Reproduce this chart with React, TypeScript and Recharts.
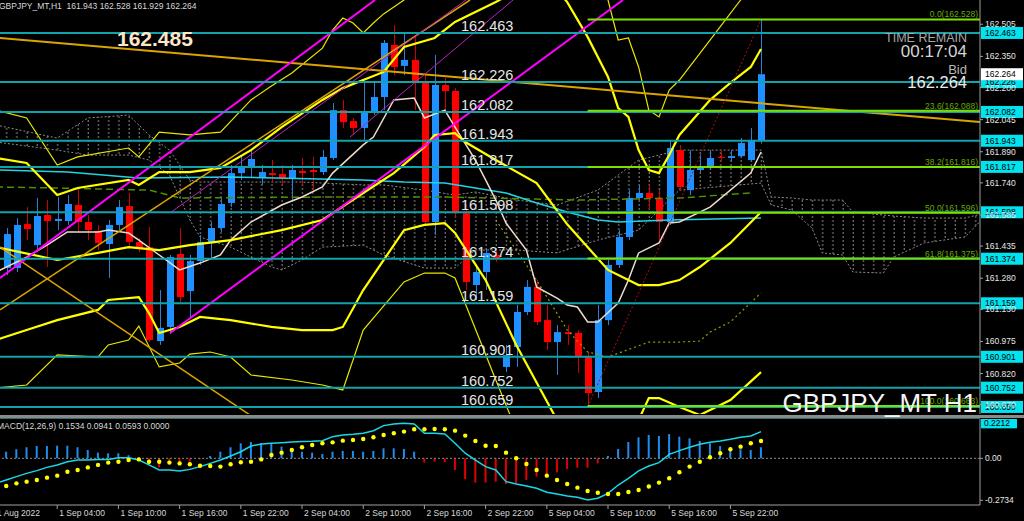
import { ComposedChart, Bar, Line, Area, XAxis, YAxis, ReferenceLine, Cell } from 'recharts';

const FONT = '"Liberation Sans", Arial, sans-serif';

// GBPJPY H1, candle index 1 = 31 Aug 23:00 ... index 75 = 6 Sep 01:00
const opens = [161.329, 161.329, 161.541, 161.440, 161.585, 161.556, 161.556, 161.633, 161.551, 161.508, 161.445, 161.537, 161.628, 161.455, 161.430, 160.977, 161.045, 161.397, 161.218, 161.363, 161.450, 161.522, 161.643, 161.787, 161.812, 161.768, 161.787, 161.783, 161.759, 161.797, 161.802, 161.792, 161.860, 162.091, 162.038, 162.005, 162.082, 162.154, 162.405, 162.304, 162.333, 162.226, 161.551, 162.212, 162.183, 161.594, 161.247, 161.310, 161.392, 160.852, 160.948, 161.117, 161.238, 161.078, 160.972, 161.020, 161.016, 160.905, 160.731, 161.078, 161.344, 161.479, 161.667, 161.691, 161.667, 161.551, 161.898, 161.705, 161.802, 161.816, 161.865, 161.860, 161.869, 161.850, 161.943];
const highs = [161.522, 161.570, 161.623, 161.667, 161.657, 161.672, 161.681, 161.710, 161.585, 161.537, 161.561, 161.657, 161.691, 161.474, 161.527, 161.223, 161.392, 161.522, 161.392, 161.488, 161.551, 161.667, 161.826, 161.874, 161.898, 161.826, 161.850, 161.826, 161.826, 161.860, 161.865, 161.898, 162.125, 162.140, 162.053, 162.222, 162.222, 162.429, 162.501, 162.468, 162.453, 162.260, 162.357, 162.246, 162.197, 161.633, 161.344, 161.426, 161.416, 160.958, 161.151, 161.271, 161.271, 161.151, 161.054, 161.054, 161.030, 160.924, 161.151, 161.368, 161.512, 161.705, 161.730, 161.730, 161.705, 161.947, 161.923, 161.898, 161.874, 161.898, 161.898, 161.898, 161.956, 162.005, 162.528];
const lows = [161.295, 161.310, 161.464, 161.416, 161.334, 161.512, 161.537, 161.503, 161.464, 161.416, 161.281, 161.512, 161.435, 161.406, 160.972, 160.958, 161.011, 161.165, 161.093, 161.344, 161.377, 161.503, 161.623, 161.754, 161.763, 161.730, 161.744, 161.730, 161.657, 161.730, 161.705, 161.778, 161.850, 162.005, 161.971, 161.947, 162.067, 162.091, 162.260, 162.260, 162.091, 161.537, 161.488, 162.091, 161.570, 161.223, 161.175, 161.223, 161.358, 160.827, 160.852, 161.102, 161.054, 160.934, 160.813, 160.958, 160.823, 160.659, 160.702, 161.054, 161.329, 161.464, 161.657, 161.609, 161.464, 161.537, 161.705, 161.681, 161.792, 161.802, 161.841, 161.841, 161.860, 161.841, 161.929];
const closes = [161.493, 161.537, 161.517, 161.580, 161.556, 161.566, 161.638, 161.551, 161.512, 161.450, 161.537, 161.623, 161.455, 161.426, 160.982, 161.040, 161.382, 161.189, 161.363, 161.455, 161.522, 161.638, 161.787, 161.812, 161.855, 161.792, 161.778, 161.763, 161.802, 161.787, 161.792, 161.865, 162.091, 162.033, 162.005, 162.082, 162.154, 162.415, 162.299, 162.333, 162.226, 161.551, 162.212, 162.183, 161.594, 161.262, 161.310, 161.402, 161.377, 160.909, 161.117, 161.238, 161.069, 160.972, 161.020, 161.011, 160.905, 160.726, 161.078, 161.344, 161.479, 161.667, 161.691, 161.667, 161.551, 161.908, 161.720, 161.802, 161.816, 161.860, 161.860, 161.869, 161.932, 161.943, 162.264];

// indicator lines, [candle index, price]
const bbMid = [[0, 161.430], [6, 161.368], [10, 161.402], [13, 161.430], [16, 161.416], [19, 161.440], [23, 161.464], [28, 161.512], [32, 161.561], [36, 161.691], [39, 161.787], [42, 161.913], [43, 161.971], [45, 161.980], [46, 161.937], [49, 161.850], [53, 161.739], [56, 161.540], [60, 161.320], [62, 161.271], [63, 161.247], [65, 161.247], [67, 161.271], [69, 161.334], [72, 161.450], [75, 161.599]];
const bbUp2 = [[0, 161.860], [3, 161.836], [6, 161.681], [8, 161.715], [13, 161.754], [14, 161.730], [16, 161.792], [19, 161.792], [22, 161.812], [25, 161.898], [28, 162.009], [32, 162.140], [34, 162.197], [38, 162.275], [40, 162.395], [43, 162.439], [45, 162.516], [49, 162.612], [52, 162.694], [55, 162.670], [56, 162.612], [58, 162.444], [60, 162.251], [61, 162.101], [62, 162.058], [63, 161.898], [64, 161.802], [65, 161.787], [66, 161.874], [67, 161.971], [70, 162.140], [72, 162.222], [74, 162.299], [75, 162.386]];
const bbUp3 = [[0, 162.091], [3, 162.053], [6, 161.826], [8, 161.865], [13, 161.908], [14, 161.865], [16, 161.985], [19, 161.971], [22, 161.985], [25, 162.140], [27, 162.207], [29, 162.270], [32, 162.390], [33, 162.477], [34, 162.535], [35, 162.511], [36, 162.463], [37, 162.511], [38, 162.555], [39, 162.588], [40, 162.622], [42, 162.718], [45, 162.911], [50, 163.104], [55, 163.008], [58, 162.815], [60, 162.622], [61, 162.429], [62, 162.439], [63, 162.299], [64, 162.091], [65, 162.058], [66, 162.188], [67, 162.236], [70, 162.429], [73, 162.622], [75, 162.743]];
const bbLow2 = [[0, 160.982], [3, 161.030], [6, 161.078], [10, 161.127], [11, 161.175], [14, 161.189], [15, 161.112], [16, 161.016], [17, 161.030], [18, 161.045], [20, 161.093], [23, 161.078], [27, 161.045], [30, 161.030], [33, 161.030], [34, 161.045], [36, 161.223], [40, 161.512], [42, 161.537], [44, 161.546], [45, 161.498], [48, 161.271], [51, 160.958], [55, 160.596], [58, 160.400], [61, 160.500], [63, 160.596], [64, 160.702], [65, 160.702], [67, 160.659], [69, 160.620], [72, 160.692], [75, 160.827]];
const bbLow3 = [[0, 160.750], [3, 160.765], [6, 160.910], [10, 160.900], [11, 160.958], [13, 160.982], [14, 161.049], [16, 160.852], [18, 160.871], [19, 160.914], [21, 160.924], [23, 160.900], [25, 160.813], [29, 160.789], [32, 160.765], [34, 160.741], [36, 161.030], [40, 161.262], [42, 161.305], [44, 161.305], [45, 161.281], [49, 160.789], [51, 160.548], [55, 160.210], [60, 160.114], [65, 160.210], [70, 160.355], [75, 160.499]];
const fastMa = [[0, 161.310], [3, 161.382], [5, 161.440], [7, 161.503], [10, 161.503], [11, 161.512], [13, 161.498], [14, 161.464], [16, 161.392], [18, 161.320], [20, 161.353], [22, 161.392], [23, 161.464], [25, 161.551], [28, 161.633], [30, 161.672], [32, 161.720], [33, 161.787], [36, 161.923], [37, 161.961], [39, 162.140], [41, 162.149], [42, 162.053], [44, 162.091], [45, 162.009], [47, 161.850], [48, 161.754], [49, 161.657], [50, 161.546], [52, 161.416], [53, 161.238], [55, 161.184], [56, 161.151], [57, 161.141], [58, 161.069], [59, 161.069], [61, 161.160], [62, 161.271], [63, 161.402], [65, 161.450], [66, 161.546], [67, 161.551], [70, 161.623], [74, 161.787], [75, 161.889]];
const slowMa = [[0, 161.802], [7, 161.792], [14, 161.763], [23, 161.768], [36, 161.754], [40, 161.744], [44, 161.739], [47, 161.715], [50, 161.691], [53, 161.643], [56, 161.599], [59, 161.561], [61, 161.551], [66, 161.561], [75, 161.570]];
const kijun = [[0, 161.720], [6, 161.715], [15, 161.705], [18, 161.667], [34, 161.672], [44, 161.672], [57, 161.657], [67, 161.667], [74, 161.691]];
const laggingDots = [[49, 161.561], [53, 161.271], [56, 161.030], [58, 160.924], [60, 160.900], [64, 160.972], [67, 160.972], [69, 160.977], [70, 161.020], [72, 161.069], [75, 161.209]];
// ichimoku cloud, [index, span top, span bottom]
const cloud = [[0, 162.019, 161.937], [6, 161.956, 161.898], [9, 162.053, 161.874], [13, 162.067, 161.874], [15, 161.971, 161.850], [17, 161.898, 161.778], [19, 161.754, 161.561], [20, 161.744, 161.479], [23, 161.744, 161.430], [27, 161.744, 161.334], [28, 161.744, 161.320], [30, 161.744, 161.368], [32, 161.739, 161.430], [36, 161.730, 161.440], [38, 161.730, 161.392], [42, 161.705, 161.329], [45, 161.681, 161.329], [47, 161.696, 161.416], [51, 161.657, 161.416], [55, 161.633, 161.402], [59, 161.705, 161.464], [63, 161.850, 161.512], [67, 161.898, 161.705], [75, 161.898, 161.739], [76, 161.672, 161.633], [78, 161.667, 161.609], [80, 161.657, 161.522], [81, 161.657, 161.402], [83, 161.657, 161.392], [84, 161.599, 161.310], [87, 161.585, 161.305], [88, 161.580, 161.382], [91, 161.570, 161.450], [95, 161.570, 161.479], [97, 161.595, 161.580]];

const levels = [162.463, 162.226, 162.082, 161.943, 161.817, 161.598, 161.374, 161.159, 160.901, 160.752, 160.659];
const fibNames = ['0.0', '23.6', '38.2', '50.0', '61.8', '100.0'];
const fibPrices = [162.528, 162.088, 161.816, 161.596, 161.375, 160.663];
const bidPrice = 162.264;
const priceTicks = [162.505, 162.35, 162.2, 162.045, 161.89, 161.74, 161.585, 161.435, 161.28, 161.13, 160.975, 160.82, 160.67];

// drawn trend lines: [x1, y1, x2, y2] in (index, price)
const magentaLines = [[17.06, 161.016, 61.47, 162.622], [0.39, 161.281, 37.16, 162.622]];
const purpleLines = [[17.06, 161.595, 46.08, 162.622], [34.7, 161.961, 50.69, 162.622]];
const goldLines = [[0.39, 162.439, 96.47, 162.033], [0.39, 161.430, 25.2, 160.61], [0.39, 161.127, 46.47, 162.622]];
const fibTrend = [58, 160.659, 75, 162.528];

// MACD(12,26,9), index 0..75
const macdHist = [0.03, 0.043, 0.059, 0.072, 0.08, 0.08, 0.082, 0.082, 0.072, 0.054, 0.037, 0.033, 0.033, 0.02, 0.004, -0.043, -0.059, -0.033, -0.028, -0.022, -0.007, 0.015, 0.043, 0.072, 0.098, 0.106, 0.098, 0.098, 0.076, 0.065, 0.043, 0.037, 0.028, 0.043, 0.048, 0.048, 0.043, 0.048, 0.065, 0.065, 0.061, 0.043, -0.028, -0.022, -0.026, -0.076, -0.135, -0.158, -0.158, -0.152, -0.167, -0.163, -0.141, -0.119, -0.102, -0.091, -0.069, -0.061, -0.061, -0.033, 0.015, 0.061, 0.106, 0.137, 0.152, 0.145, 0.158, 0.141, 0.13, 0.113, 0.098, 0.08, 0.065, 0.059, 0.054, 0.072];
const macdMain = [-0.163, -0.141, -0.119, -0.098, -0.08, -0.059, -0.043, -0.022, -0.011, -0.011, -0.007, -0.007, 0.004, 0.004, -0.011, -0.043, -0.076, -0.076, -0.082, -0.072, -0.054, -0.033, -0.011, 0.015, 0.043, 0.08, 0.093, 0.098, 0.102, 0.106, 0.109, 0.111, 0.115, 0.141, 0.152, 0.156, 0.163, 0.18, 0.213, 0.224, 0.228, 0.224, 0.163, 0.163, 0.158, 0.098, 0.033, -0.011, -0.054, -0.076, -0.152, -0.167, -0.18, -0.195, -0.221, -0.232, -0.245, -0.254, -0.271, -0.26, -0.228, -0.174, -0.13, -0.082, -0.05, -0.028, 0.026, 0.05, 0.072, 0.091, 0.104, 0.113, 0.124, 0.137, 0.145, 0.174];
const macdSignal = [null, -0.18, -0.163, -0.152, -0.141, -0.126, -0.113, -0.087, -0.076, -0.059, -0.043, -0.028, -0.022, -0.011, -0.007, -0.022, -0.022, -0.028, -0.033, -0.039, -0.048, -0.05, -0.054, -0.039, -0.026, -0.022, -0.007, 0.022, 0.037, 0.054, 0.072, 0.087, 0.098, 0.104, 0.115, 0.119, 0.126, 0.137, 0.152, 0.163, 0.174, 0.189, 0.189, 0.191, 0.189, 0.18, 0.148, 0.113, 0.082, 0.08, 0.037, 0, -0.037, -0.076, -0.113, -0.141, -0.167, -0.191, -0.213, -0.224, -0.232, -0.232, -0.219, -0.206, -0.184, -0.158, -0.13, -0.091, -0.054, -0.022, 0.007, 0.033, 0.059, 0.076, 0.098, 0.113];

const timeTicks = [0, 6, 12, 18, 24, 30, 36, 42, 48, 54, 60, 66, 72];
const timeLabels = ['31 Aug 2022', '1 Sep 04:00', '1 Sep 10:00', '1 Sep 16:00', '1 Sep 22:00', '2 Sep 04:00', '2 Sep 10:00', '2 Sep 16:00', '2 Sep 22:00', '5 Sep 04:00', '5 Sep 10:00', '5 Sep 16:00', '5 Sep 22:00'];

const X_DOMAIN = [0.39, 96.47];
const LABEL_X = 461;

// build chart rows
const rows: any[] = Array.from({ length: 98 }, (_, i) => ({ i }));
opens.forEach((o, k) => {
  const r = rows[k + 1];
  r.open = o;
  r.high = highs[k];
  r.low = lows[k];
  r.close = closes[k];
});
const put = (key: string, pts: number[][]) => pts.forEach(([i, v]) => (rows[i][key] = v));
put('mid', bbMid);
put('up2', bbUp2);
put('up3', bbUp3);
put('lo2', bbLow2);
put('lo3', bbLow3);
put('fast', fastMa);
put('slow', slowMa);
put('kijun', kijun);
put('lag', laggingDots);
cloud.forEach(([i, top, bot]) => {
  rows[i].cTop = top;
  rows[i].cBot = bot;
});

const macdRows = macdHist.map((h, i) => ({ i, hist: h, macd: macdMain[i], sig: macdSignal[i] }));

const Candle = (props: any) => {
  const { x, y, width, height, payload } = props;
  if (!payload || payload.open == null) return null;
  const { open, close, high, low } = payload;
  const top = Math.min(y, y + height);
  const h = Math.abs(height);
  const k = h / (high - low);
  const up = close >= open;
  const bodyTop = top + (high - Math.max(open, close)) * k;
  const bodyH = Math.max(1, Math.abs(close - open) * k);
  const cx = Math.round(x + width / 2);
  return (
    <g>
      <line x1={cx + 0.5} x2={cx + 0.5} y1={top} y2={top + h} stroke={up ? '#2a7fd4' : '#d00000'} strokeWidth={1} />
      <rect x={cx - 3} y={bodyTop} width={7} height={bodyH} fill={up ? '#1e90ff' : '#ff0000'} />
    </g>
  );
};

const LevelTag = ({ viewBox, price }: any) => {
  if (!viewBox) return null;
  const y = viewBox.y;
  return (
    <g>
      <text x={LABEL_X} y={y - 2} fill="#e6e6e6" fontSize={14.5} fontFamily={FONT}>
        {price.toFixed(3)}
      </text>
      <rect x={981} y={y - 6} width={42} height={12} fill="#00e4f0" />
      <text x={985} y={y + 3} fill="#000" fontSize={8.5} fontFamily={FONT}>
        {price.toFixed(3)}
      </text>
    </g>
  );
};

const FibTag = ({ viewBox, text }: any) => {
  if (!viewBox) return null;
  return (
    <text x={viewBox.x + viewBox.width - 2} y={viewBox.y - 2} textAnchor="end" fill="#6aa800" fontSize={8.5} fontFamily={FONT}>
      {text}
    </text>
  );
};

const BidTag = ({ viewBox }: any) => {
  if (!viewBox) return null;
  return (
    <g>
      <rect x={981} y={viewBox.y - 6} width={42} height={12} fill="#ffffff" />
      <text x={985} y={viewBox.y + 3} fill="#000" fontSize={8.5} fontFamily={FONT}>
        {bidPrice.toFixed(3)}
      </text>
    </g>
  );
};

const MacdTag = ({ viewBox }: any) => {
  if (!viewBox) return null;
  return (
    <g>
      <rect x={981} y={viewBox.y - 7} width={36} height={11} fill="#00e4f0" />
      <text x={984} y={viewBox.y + 2} fill="#000" fontSize={8.5} fontFamily={FONT}>
        0.2212
      </text>
    </g>
  );
};

const TimeTick = ({ x, y, payload }: any) => {
  const idx = timeTicks.indexOf(payload.value);
  const first = idx === 0;
  return (
    <text x={first ? x + 44 : x + 2} y={y + 7} textAnchor={first ? 'end' : 'start'} fill="#d8d8d8" fontSize={8.5} fontFamily={FONT}>
      {timeLabels[idx]}
    </text>
  );
};

const seg = (s: number[]) => [
  { x: s[0], y: s[1] },
  { x: s[2], y: s[3] },
];

export default function App() {
  return (
    <div style={{ position: 'absolute', left: 0, top: 0, width: 1024, height: 521, background: '#000', overflow: 'hidden' }}>
      <div style={{ position: 'absolute', left: 0, top: 0 }}>
        <ComposedChart width={1024} height={414} data={rows} margin={{ top: 0, right: 0, bottom: 0, left: 0 }}>
          <defs>
            <pattern id="cloudHatch" patternUnits="userSpaceOnUse" width={10.2} height={4}>
              <line x1={6.7} x2={6.7} y1={0} y2={2} stroke="#8c8c8c" strokeWidth={1} />
            </pattern>
          </defs>
          <XAxis dataKey="i" type="number" domain={X_DOMAIN} allowDataOverflow hide />
          <YAxis
            orientation="right"
            width={44}
            domain={[160.625, 162.622]}
            allowDataOverflow
            ticks={priceTicks}
            interval={0}
            tickFormatter={(v: number) => v.toFixed(3)}
            tick={{ fill: '#e6e6e6', fontSize: 8.5, fontFamily: FONT }}
            tickSize={3}
            tickMargin={2}
            axisLine={{ stroke: '#a0a0a0' }}
            tickLine={{ stroke: '#a0a0a0' }}
          />
          <Area
            dataKey={(d: any) => (d.cTop == null ? null : [d.cBot, d.cTop])}
            type="linear"
            connectNulls
            stroke="#8c8c8c"
            strokeDasharray="2 2"
            strokeWidth={1}
            fill="url(#cloudHatch)"
            fillOpacity={1}
            isAnimationActive={false}
          />
          <Bar dataKey={(d: any) => (d.open == null ? null : [d.low, d.high])} barSize={7} shape={<Candle />} isAnimationActive={false} />
          <Line dataKey="kijun" type="linear" connectNulls dot={false} stroke="#4f8f00" strokeWidth={1.5} strokeDasharray="7 4" isAnimationActive={false} />
          <Line dataKey="lag" type="linear" connectNulls dot={false} stroke="#9a9a00" strokeWidth={1.2} strokeDasharray="2 3" isAnimationActive={false} />
          <Line dataKey="slow" type="linear" connectNulls dot={false} stroke="#22d3e6" strokeWidth={1.5} isAnimationActive={false} />
          <Line dataKey="fast" type="linear" connectNulls dot={false} stroke="#eedccb" strokeWidth={1.5} isAnimationActive={false} />
          <Line dataKey="up3" type="linear" connectNulls dot={false} stroke="#e8e800" strokeWidth={1.2} isAnimationActive={false} />
          <Line dataKey="lo3" type="linear" connectNulls dot={false} stroke="#e8e800" strokeWidth={1.2} isAnimationActive={false} />
          <Line dataKey="up2" type="linear" connectNulls dot={false} stroke="#ffff00" strokeWidth={2.2} isAnimationActive={false} />
          <Line dataKey="lo2" type="linear" connectNulls dot={false} stroke="#ffff00" strokeWidth={2.2} isAnimationActive={false} />
          <Line dataKey="mid" type="linear" connectNulls dot={false} stroke="#ffff00" strokeWidth={2.2} isAnimationActive={false} />
          {goldLines.map((s, k) => (
            <ReferenceLine key={'g' + k} segment={seg(s)} stroke="#dca400" strokeWidth={k === 0 ? 2 : 1.5} ifOverflow="hidden" />
          ))}
          {purpleLines.map((s, k) => (
            <ReferenceLine key={'p' + k} segment={seg(s)} stroke="#c020c0" strokeWidth={1} ifOverflow="hidden" />
          ))}
          {magentaLines.map((s, k) => (
            <ReferenceLine key={'m' + k} segment={seg(s)} stroke="#ff00ff" strokeWidth={2} ifOverflow="hidden" />
          ))}
          <ReferenceLine segment={seg(fibTrend)} stroke="#b01010" strokeDasharray="2 2" strokeWidth={1} ifOverflow="hidden" />
          {levels.map((p) => (
            <ReferenceLine key={'l' + p} y={p} stroke="#10a4aa" strokeWidth={2} label={<LevelTag price={p} />} />
          ))}
          {fibPrices.map((p, k) => (
            <ReferenceLine
              key={'f' + k}
              segment={[
                { x: 58, y: p },
                { x: X_DOMAIN[1], y: p },
              ]}
              stroke="#7ee000"
              strokeWidth={2}
              ifOverflow="hidden"
              label={<FibTag text={`${fibNames[k]}(${p.toFixed(3)})`} />}
            />
          ))}
          <ReferenceLine y={bidPrice} stroke="none" label={<BidTag />} />
        </ComposedChart>
      </div>

      <div style={{ position: 'absolute', left: 0, top: 415, width: 1024, height: 3, background: '#8a8a8a' }} />
      <div style={{ position: 'absolute', left: 0, top: 418, width: 980, height: 1, background: '#2a7070' }} />

      <div style={{ position: 'absolute', left: 0, top: 419 }}>
        <ComposedChart width={1024} height={102} data={macdRows} margin={{ top: 0, right: 0, bottom: 0, left: 0 }}>
          <XAxis
            dataKey="i"
            type="number"
            domain={X_DOMAIN}
            allowDataOverflow
            ticks={timeTicks}
            interval={0}
            height={16}
            tickSize={4}
            tickMargin={0}
            tick={<TimeTick />}
            axisLine={{ stroke: '#a0a0a0' }}
            tickLine={{ stroke: '#a0a0a0' }}
          />
          <YAxis
            orientation="right"
            width={44}
            domain={[-0.304, 0.256]}
            allowDataOverflow
            ticks={[0, -0.2734]}
            interval={0}
            tickFormatter={(v: number) => (v === 0 ? '0.00' : v.toFixed(4))}
            tick={{ fill: '#e6e6e6', fontSize: 8.5, fontFamily: FONT }}
            tickSize={3}
            tickMargin={2}
            axisLine={{ stroke: '#a0a0a0' }}
            tickLine={{ stroke: '#a0a0a0' }}
          />
          <ReferenceLine y={0} stroke="#8a8a8a" strokeDasharray="2 2" />
          <Bar dataKey="hist" barSize={2} isAnimationActive={false}>
            {macdRows.map((r) => (
              <Cell key={r.i} fill={r.hist >= 0 ? '#1e8cf0' : '#e00000'} />
            ))}
          </Bar>
          <Line dataKey="macd" type="linear" dot={false} stroke="#18d8e8" strokeWidth={1.5} isAnimationActive={false} />
          <Line dataKey="sig" type="linear" stroke="none" dot={{ r: 2.2, fill: '#ffff00', stroke: 'none' }} isAnimationActive={false} />
          <ReferenceLine y={0.2212} stroke="none" label={<MacdTag />} />
        </ComposedChart>
      </div>

      <svg width={1024} height={521} style={{ position: 'absolute', left: 0, top: 0, pointerEvents: 'none' }}>
        <text x={-1} y={9} fill="#d8d8d8" fontSize={8.5} fontFamily={FONT} style={{ whiteSpace: 'pre' }}>
          GBPJPY_MT,H1  161.943 162.528 161.929 162.264
        </text>
        <text x={117} y={46} fill="#fde8cc" fontSize={21} fontWeight="bold" fontFamily={FONT}>
          162.485
        </text>
        <text x={967} y={42} textAnchor="end" fill="#a8a8a8" fontSize={12.5} fontFamily={FONT}>
          TIME REMAIN
        </text>
        <text x={967} y={57} textAnchor="end" fill="#d4d4d4" fontSize={17} fontFamily={FONT}>
          00:17:04
        </text>
        <text x={967} y={74} textAnchor="end" fill="#b8b8b8" fontSize={13} fontFamily={FONT}>
          Bid
        </text>
        <text x={967} y={88} textAnchor="end" fill="#ececec" fontSize={16.5} fontFamily={FONT}>
          162.264
        </text>
        <text x={977} y={412} textAnchor="end" fill="#f4f4f4" fontSize={26} fontFamily={FONT}>
          GBPJPY_MT H1
        </text>
        <text x={-3} y={429} fill="#d8d8d8" fontSize={8.5} fontFamily={FONT} style={{ whiteSpace: 'pre' }}>
          MACD(12,26,9) 0.1534 0.0941 0.0593 0.0000
        </text>
      </svg>
    </div>
  );
}
